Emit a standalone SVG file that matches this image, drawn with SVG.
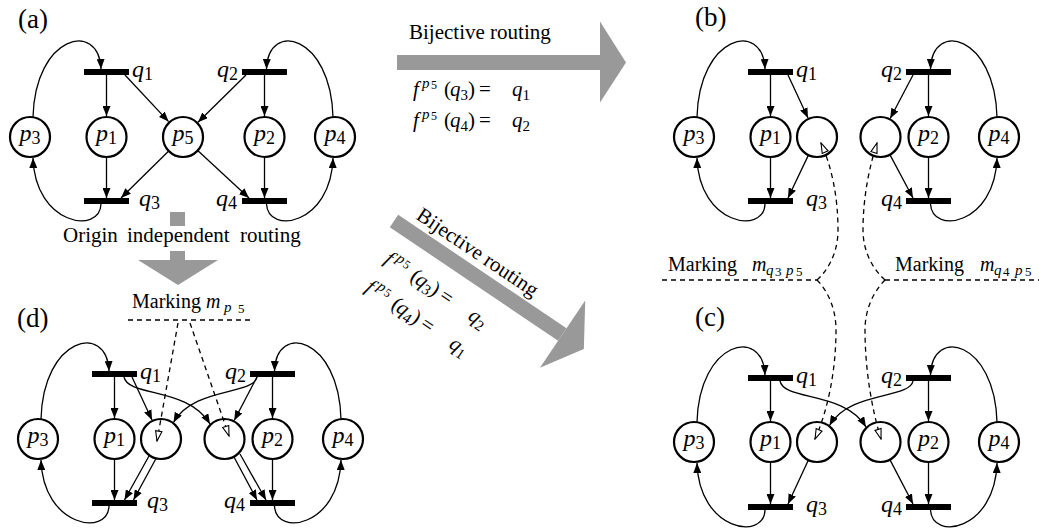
<svg xmlns="http://www.w3.org/2000/svg" width="1039" height="531" viewBox="0 0 1039 531">
<style>
text{font-family:"Liberation Serif","Times New Roman",serif;fill:#000}
.lab{font-size:21px}
.mk{font-size:20px}
.big{font-size:27px}
.i{font-style:italic}
.v{font-size:24px;font-style:italic}
.sub{font-size:18px;font-style:normal}
.bar{fill:#000}
.pl{fill:#fff;stroke:#000;stroke-width:2.2}
.a{fill:none;stroke:#000;stroke-width:1.3;marker-end:url(#ah)}
.d{fill:none;stroke:#000;stroke-width:1.3;stroke-dasharray:5 4}
.dh{marker-end:url(#hh)}
.g{fill:#999}
</style>
<defs>
<marker id="ah" viewBox="0 0 10 8" refX="10" refY="4" markerWidth="10" markerHeight="8" markerUnits="userSpaceOnUse" orient="auto"><path d="M0,0L10,4L0,8z" fill="#000"/></marker>
<marker id="hh" viewBox="-1 -1 12 10" refX="10" refY="4" markerWidth="12" markerHeight="10" markerUnits="userSpaceOnUse" orient="auto"><path d="M0,0.8L10,4L0,7.2z" fill="#fff" stroke="#000" stroke-width="1.1" stroke-dasharray="none"/></marker>
</defs>

<!-- panel labels and annotations -->
<g id="labels">
<text class="big" x="18" y="28">(a)</text>
<text class="big" x="695" y="26">(b)</text>
<text class="big" x="695" y="326">(c)</text>
<text class="big" x="17" y="327">(d)</text>
<text class="lab" y="242"><tspan x="63">Origin</tspan><tspan x="127">independent</tspan><tspan x="240">routing</tspan></text>
<text class="mk" x="132" y="308">Marking<tspan class="i" x="206">m</tspan><tspan class="i" x="224" dy="4" font-size="15">p</tspan><tspan x="238" dy="1" font-size="13">5</tspan></text>
<text class="mk" x="668" y="271">Marking<tspan class="i" x="752">m</tspan><tspan class="i" x="766" dy="4" font-size="15">q</tspan><tspan x="775" dy="1" font-size="13">3</tspan><tspan class="i" x="786" dy="-1" font-size="15">p</tspan><tspan x="796" dy="1" font-size="13">5</tspan></text>
<text class="mk" x="895" y="271">Marking<tspan class="i" x="980">m</tspan><tspan class="i" x="994" dy="4" font-size="15">q</tspan><tspan x="1003" dy="1" font-size="13">4</tspan><tspan class="i" x="1015" dy="-1" font-size="15">p</tspan><tspan x="1025" dy="1" font-size="13">5</tspan></text>
</g>

<!-- big gray arrows -->
<g id="arrow-top">
<g transform="translate(397,62.5)">
<rect class="g" x="0" y="-7.5" width="203" height="15"/>
<polygon class="g" points="203,-41 229,0 203,40"/>
</g>
<text class="lab" x="409" y="39">Bijective routing</text>
<text class="lab"><tspan class="i" x="413" y="96">f</tspan><tspan class="i" x="422" y="88" font-size="15">p</tspan><tspan x="431" y="89" font-size="12">5</tspan><tspan x="444" y="96">(</tspan><tspan class="i" x="450" y="96">q</tspan><tspan x="460.5" y="100" font-size="15">3</tspan><tspan x="468" y="96">)</tspan><tspan x="479" y="96">=</tspan><tspan class="i" x="512" y="96">q</tspan><tspan x="522.5" y="100" font-size="15">1</tspan></text>
<text class="lab"><tspan class="i" x="413" y="127">f</tspan><tspan class="i" x="422" y="119" font-size="15">p</tspan><tspan x="431" y="120" font-size="12">5</tspan><tspan x="444" y="127">(</tspan><tspan class="i" x="450" y="127">q</tspan><tspan x="460.5" y="131" font-size="15">4</tspan><tspan x="468" y="127">)</tspan><tspan x="479" y="127">=</tspan><tspan class="i" x="512" y="127">q</tspan><tspan x="522.5" y="131" font-size="15">2</tspan></text>
</g>
<g id="arrow-diag" transform="translate(394,221) rotate(34)">
<rect class="g" x="0" y="-7.5" width="203" height="15"/>
<polygon class="g" points="203,-41 229,0 203,40"/>
<text class="lab" x="16" y="-14">Bijective routing</text>
<text class="lab"><tspan class="i" x="14" y="40">f</tspan><tspan class="i" x="23" y="32" font-size="15">p</tspan><tspan x="32" y="33" font-size="12">5</tspan><tspan x="45" y="40">(</tspan><tspan class="i" x="51" y="40">q</tspan><tspan x="61.5" y="44" font-size="15">3</tspan><tspan x="69" y="40">)</tspan><tspan x="80" y="40">=</tspan><tspan class="i" x="115" y="40">q</tspan><tspan x="125.5" y="44" font-size="15">2</tspan></text>
<text class="lab"><tspan class="i" x="14" y="74">f</tspan><tspan class="i" x="23" y="66" font-size="15">p</tspan><tspan x="32" y="67" font-size="12">5</tspan><tspan x="45" y="74">(</tspan><tspan class="i" x="51" y="74">q</tspan><tspan x="61.5" y="78" font-size="15">4</tspan><tspan x="69" y="74">)</tspan><tspan x="80" y="74">=</tspan><tspan class="i" x="115" y="74">q</tspan><tspan x="125.5" y="78" font-size="15">1</tspan></text>
</g>
<g id="arrow-down">
<rect class="g" x="170" y="212" width="15" height="14"/>
<rect class="g" x="170" y="251" width="15" height="10"/>
<polygon class="g" points="138,260 218,260 178,285"/>
</g>

<!-- nodes -->
<g id="panel-a">
<g id="a-q1"><rect class="bar" x="84" y="69" width="45" height="6"/><text class="v" x="132" y="77">q<tspan class="sub" dy="3">1</tspan></text></g>
<g id="a-q2"><rect class="bar" x="242" y="69" width="45" height="6"/><text class="v" x="238" y="77" text-anchor="end">q<tspan class="sub" dy="3">2</tspan></text></g>
<g id="a-q3"><rect class="bar" x="84" y="198" width="45" height="6"/><text class="v" x="139" y="206">q<tspan class="sub" dy="3">3</tspan></text></g>
<g id="a-q4"><rect class="bar" x="242" y="198" width="45" height="6"/><text class="v" x="237" y="206" text-anchor="end">q<tspan class="sub" dy="3">4</tspan></text></g>
<g id="a-p3"><circle class="pl" cx="30" cy="137" r="20"/><text class="v" x="30" y="141" text-anchor="middle">p<tspan class="sub" dy="3">3</tspan></text></g>
<g id="a-p1"><circle class="pl" cx="106.5" cy="137" r="20"/><text class="v" x="106.5" y="141" text-anchor="middle">p<tspan class="sub" dy="3">1</tspan></text></g>
<g id="a-p5"><circle class="pl" cx="183" cy="137" r="20"/><text class="v" x="183" y="141" text-anchor="middle">p<tspan class="sub" dy="3">5</tspan></text></g>
<g id="a-p2"><circle class="pl" cx="264.5" cy="137" r="20"/><text class="v" x="264.5" y="141" text-anchor="middle">p<tspan class="sub" dy="3">2</tspan></text></g>
<g id="a-p4"><circle class="pl" cx="335" cy="137" r="20"/><text class="v" x="335" y="141" text-anchor="middle">p<tspan class="sub" dy="3">4</tspan></text></g>
</g>

<g id="panel-b" transform="translate(664,0)">
<g id="b-q1"><rect class="bar" x="84" y="69" width="45" height="6"/><text class="v" x="132" y="77">q<tspan class="sub" dy="3">1</tspan></text></g>
<g id="b-q2"><rect class="bar" x="242" y="69" width="45" height="6"/><text class="v" x="238" y="77" text-anchor="end">q<tspan class="sub" dy="3">2</tspan></text></g>
<g id="b-q3"><rect class="bar" x="84" y="198" width="45" height="6"/><text class="v" x="142" y="206">q<tspan class="sub" dy="3">3</tspan></text></g>
<g id="b-q4"><rect class="bar" x="242" y="198" width="45" height="6"/><text class="v" x="238" y="206" text-anchor="end">q<tspan class="sub" dy="3">4</tspan></text></g>
<g id="b-p3"><circle class="pl" cx="30" cy="137" r="20"/><text class="v" x="30" y="141" text-anchor="middle">p<tspan class="sub" dy="3">3</tspan></text></g>
<g id="b-p1"><circle class="pl" cx="106.5" cy="137" r="20"/><text class="v" x="106.5" y="141" text-anchor="middle">p<tspan class="sub" dy="3">1</tspan></text></g>
<g id="b-l"><circle class="pl" cx="153" cy="137" r="20"/></g>
<g id="b-r"><circle class="pl" cx="216.5" cy="137" r="20"/></g>
<g id="b-p2"><circle class="pl" cx="264.5" cy="137" r="20"/><text class="v" x="264.5" y="141" text-anchor="middle">p<tspan class="sub" dy="3">2</tspan></text></g>
<g id="b-p4"><circle class="pl" cx="335" cy="137" r="20"/><text class="v" x="335" y="141" text-anchor="middle">p<tspan class="sub" dy="3">4</tspan></text></g>
</g>

<g id="panel-c" transform="translate(664,306)">
<g id="c-q1"><rect class="bar" x="84" y="69" width="45" height="6"/><text class="v" x="132" y="77">q<tspan class="sub" dy="3">1</tspan></text></g>
<g id="c-q2"><rect class="bar" x="242" y="69" width="45" height="6"/><text class="v" x="238" y="77" text-anchor="end">q<tspan class="sub" dy="3">2</tspan></text></g>
<g id="c-q3"><rect class="bar" x="84" y="198" width="45" height="6"/><text class="v" x="142" y="206">q<tspan class="sub" dy="3">3</tspan></text></g>
<g id="c-q4"><rect class="bar" x="242" y="198" width="45" height="6"/><text class="v" x="238" y="206" text-anchor="end">q<tspan class="sub" dy="3">4</tspan></text></g>
<g id="c-p3"><circle class="pl" cx="30" cy="136" r="20"/><text class="v" x="30" y="140" text-anchor="middle">p<tspan class="sub" dy="3">3</tspan></text></g>
<g id="c-p1"><circle class="pl" cx="106.5" cy="136" r="20"/><text class="v" x="106.5" y="140" text-anchor="middle">p<tspan class="sub" dy="3">1</tspan></text></g>
<g id="c-l"><circle class="pl" cx="153" cy="136" r="20"/></g>
<g id="c-r"><circle class="pl" cx="216.5" cy="136" r="20"/></g>
<g id="c-p2"><circle class="pl" cx="264.5" cy="136" r="20"/><text class="v" x="264.5" y="140" text-anchor="middle">p<tspan class="sub" dy="3">2</tspan></text></g>
<g id="c-p4"><circle class="pl" cx="335" cy="136" r="20"/><text class="v" x="335" y="140" text-anchor="middle">p<tspan class="sub" dy="3">4</tspan></text></g>
</g>

<g id="panel-d" transform="translate(8,302)">
<g id="d-q1"><rect class="bar" x="84" y="69" width="45" height="6"/><text class="v" x="132" y="77">q<tspan class="sub" dy="3">1</tspan></text></g>
<g id="d-q2"><rect class="bar" x="242" y="69" width="45" height="6"/><text class="v" x="238" y="77" text-anchor="end">q<tspan class="sub" dy="3">2</tspan></text></g>
<g id="d-q3"><rect class="bar" x="84" y="198" width="45" height="6"/><text class="v" x="139" y="206">q<tspan class="sub" dy="3">3</tspan></text></g>
<g id="d-q4"><rect class="bar" x="242" y="198" width="45" height="6"/><text class="v" x="237" y="206" text-anchor="end">q<tspan class="sub" dy="3">4</tspan></text></g>
<g id="d-p3"><circle class="pl" cx="30" cy="137" r="20"/><text class="v" x="30" y="141" text-anchor="middle">p<tspan class="sub" dy="3">3</tspan></text></g>
<g id="d-p1"><circle class="pl" cx="106.5" cy="137" r="20"/><text class="v" x="106.5" y="141" text-anchor="middle">p<tspan class="sub" dy="3">1</tspan></text></g>
<g id="d-l"><circle class="pl" cx="153" cy="137" r="20"/></g>
<g id="d-r"><circle class="pl" cx="216.5" cy="137" r="20"/></g>
<g id="d-p2"><circle class="pl" cx="264.5" cy="137" r="20"/><text class="v" x="264.5" y="141" text-anchor="middle">p<tspan class="sub" dy="3">2</tspan></text></g>
<g id="d-p4"><circle class="pl" cx="335" cy="137" r="20"/><text class="v" x="335" y="141" text-anchor="middle">p<tspan class="sub" dy="3">4</tspan></text></g>
</g>

<!-- connectors -->
<g id="connectors">
<g id="conn-a">
<path class="a" d="M106.5,75V116"/><path class="a" d="M106.5,158V198"/>
<path class="a" d="M264.5,75V116"/><path class="a" d="M264.5,158V198"/>
<path class="a" d="M33,117.2C35,35 99,20 101,69"/><path class="a" d="M101,204C100,235 35,225 33,158"/>
<path class="a" d="M333,117.2C331,35 268,20 266.5,69"/><path class="a" d="M266.5,204C268,235 331,225 333,158"/>
<path class="a" d="M125,75L168.6,121.6"/><path class="a" d="M246,75L198,122.2"/>
<path class="a" d="M168.7,151L121,198"/><path class="a" d="M197.7,150.6L249,198"/>
</g>
<g id="conn-b" transform="translate(664,0)">
<path class="a" d="M106.5,75V116"/><path class="a" d="M106.5,158V198"/>
<path class="a" d="M264.5,75V116"/><path class="a" d="M264.5,158V198"/>
<path class="a" d="M33,117.2C35,35 99,20 101,69"/><path class="a" d="M101,204C100,235 35,225 33,158"/>
<path class="a" d="M333,117.2C331,35 268,20 266.5,69"/><path class="a" d="M266.5,204C268,235 331,225 333,158"/>
<path class="a" d="M124,75L144,118"/><path class="a" d="M249,75L226.2,118.5"/>
<path class="a" d="M144.4,155.1L124,198"/><path class="a" d="M225.9,154.6L249,198"/>
</g>
<g id="conn-c" transform="translate(664,306)">
<path class="a" d="M106.5,75V115"/><path class="a" d="M106.5,157V198"/>
<path class="a" d="M264.5,75V115"/><path class="a" d="M264.5,157V198"/>
<path class="a" d="M33,116.2C35,35 99,20 101,69"/><path class="a" d="M101,204C100,235 35,225 33,157"/>
<path class="a" d="M333,116.2C331,35 268,20 266.5,69"/><path class="a" d="M266.5,204C268,235 331,225 333,157"/>
<path class="a" d="M116,75C120,95 180,85 202,121"/><path class="a" d="M249,75C246,93 185,85 165.5,119.5"/>
<path class="a" d="M144.4,154.1L124,198"/><path class="a" d="M225.9,153.6L249,198"/>
</g>
<g id="conn-d" transform="translate(8,302)">
<path class="a" d="M106.5,75V116"/><path class="a" d="M106.5,158V198"/>
<path class="a" d="M264.5,75V116"/><path class="a" d="M264.5,158V198"/>
<path class="a" d="M33,117.2C35,35 99,20 101,69"/><path class="a" d="M101,204C100,235 35,225 33,158"/>
<path class="a" d="M333,117.2C331,35 268,20 266.5,69"/><path class="a" d="M266.5,204C268,235 331,225 333,158"/>
<path class="a" d="M124,75L144,118"/><path class="a" d="M249,75L226.2,118.5"/>
<path class="a" d="M116,75C120,95 180,85 202,122"/><path class="a" d="M249,75C246,93 185,85 165.5,120.5"/>
<path class="a" d="M141,154L116.5,198"/><path class="a" d="M148,156.5L125.5,198"/>
<path class="a" d="M226,155L249,198"/><path class="a" d="M232,152L258,198"/>
</g>
<g id="conn-dashed">
<path class="d" d="M128,320H250"/>
<path class="d dh" d="M178,323L157,441"/>
<path class="d dh" d="M190,323L229,436"/>
<path class="d" d="M662,280H817"/>
<path class="d" d="M885,280H1039"/>
<path class="d dh" d="M817,280C826,272 838,255 838,230C838,195 831,165 821,143"/>
<path class="d dh" d="M817,280C825,288 836,305 836,330C836,370 828,410 815,439"/>
<path class="d dh" d="M885,280C876,272 863,255 863,230C863,195 870,165 877,143"/>
<path class="d dh" d="M885,280C877,288 865,305 865,330C865,370 872,410 881,439"/>
</g>
</g>
</svg>
